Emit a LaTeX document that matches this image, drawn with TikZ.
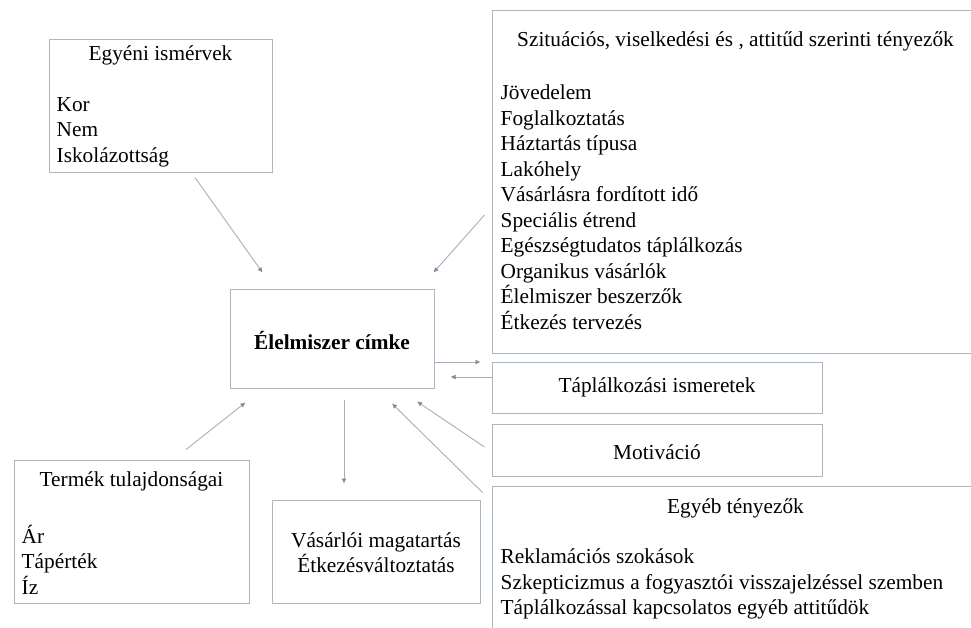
\documentclass[tikz,border=0pt]{standalone}
\usepackage{fontspec}
\setmainfont{Liberation Serif}
\usetikzlibrary{arrows.meta,positioning,calc}
\definecolor{keretszin}{HTML}{A9B6C4}
\definecolor{nyilszin}{HTML}{A3B0BE}
\definecolor{hegyszin}{HTML}{7F8C99}
\tikzset{
  keret/.style={rectangle, draw=keretszin, line width=1pt, inner sep=0pt},
  cim/.style={inner sep=0pt, anchor=center},
  lista/.style={inner sep=0pt, anchor=west, align=left},
  nyil/.style={-{Latex[length=5pt,width=5pt,color=hegyszin]}, line width=0.9pt, draw=nyilszin},
}
\begin{document}
\begin{tikzpicture}[x=1pt,y=-1pt,font=\fontsize{21.3}{25.5}\selectfont]
    \clip (0,0) rectangle (971,627);
    \fill[white] (0,0) rectangle (971,627);
    % dobozok
    \node[keret, minimum width=223pt, minimum height=133pt] (egyeni) at (160.5,105.5) {};
    \node[keret, minimum width=487pt, minimum height=343pt] (szitu) at (735.5,181.5) {};
    \node[keret, minimum width=204pt, minimum height=99pt] (cimke) at (332,338.5) {};
    \node[keret, minimum width=330pt, minimum height=51pt] (taplal) at (657,387.5) {};
    \node[keret, minimum width=330pt, minimum height=52pt] (motiv) at (657,450) {};
    \node[keret, minimum width=487pt, minimum height=170pt] (egyeb) at (735.5,571) {};
    \node[keret, minimum width=235pt, minimum height=143pt] (termek) at (131.5,531.5) {};
    \node[keret, minimum width=208pt, minimum height=103pt] (vasarl) at (376,551.5) {};
    % szovegek
    \node[cim] (egyenicim) at ($(egyeni.north)+(0,16.5)$) {Egyéni ismérvek};
    \node[lista] (egyenilista) at ($(egyeni.west)+(8,26.5)$) {Kor\\Nem\\Iskolázottság};
    \node[cim] (szitucim) at ($(szitu.north)+(0,32)$) {Szituációs, viselkedési és , attitűd szerinti tényezők};
    \node[lista] (szitulista) at ($(szitu.west)+(9,25.5)$) {Jövedelem\\Foglalkoztatás\\Háztartás típusa\\Lakóhely\\Vásárlásra fordított idő\\Speciális étrend\\Egészségtudatos táplálkozás\\Organikus vásárlók\\Élelmiszer beszerzők\\Étkezés tervezés};
    \node[cim] (cimkecim) at ($(cimke.center)+(0,1.5)$) {\textbf{Élelmiszer címke}};
    \node[cim] (taplalcim) at (taplal.center) {Táplálkozási ismeretek};
    \node[cim] (motivcim) at ($(motiv.center)+(0,2)$) {Motiváció};
    \node[cim] (egyebcim) at ($(egyeb.north)+(0,23)$) {Egyéb tényezők};
    \node[lista] (egyeblista) at ($(egyeb.north west)+(9,98.5)$) {Reklamációs szokások\\Szkepticizmus a fogyasztói visszajelzéssel szemben\\Táplálkozással kapcsolatos egyéb attitűdök};
    \node[cim] (termekcim) at ($(termek.north)+(0,22)$) {Termék tulajdonságai};
    \node[lista] (termeklista) at ($(termek.west)+(8,28)$) {Ár\\Tápérték\\Íz};
    \node[lista, align=center, anchor=center] (vasarlcim) at ($(vasarl.center)+(0,1)$) {Vásárlói magatartás\\Étkezésváltoztatás};
    % nyilak
    \draw[nyil] ($(egyeni.south)+(34.5,5)$) -- ($(cimke.north west)+(33,-16)$);
    \draw[nyil] ($(szitu.west)+(-7,33.5)$) -- ($(cimke.north east)+(-1,-16)$);
    \draw[nyil] ($(cimke.east)+(0,23.5)$) -- ($(taplal.west)+(-11,-25.5)$);
    \draw[nyil] ($(taplal.west)+(0,-10.5)$) -- ($(cimke.east)+(16,38.5)$);
    \draw[nyil] ($(termek.north)+(54.5,-10)$) -- ($(cimke.south west)+(16,14)$);
    \draw[nyil] ($(cimke.south)+(12,11)$) -- ($(vasarl.north)+(-32,-16)$);
    \draw[nyil] ($(egyeb.north west)+(-9,7)$) -- ($(cimke.south)+(60,15)$);
    \draw[nyil] ($(motiv.west)+(-7,-3)$) -- ($(cimke.south)+(85,13)$);
\end{tikzpicture}
\end{document}
